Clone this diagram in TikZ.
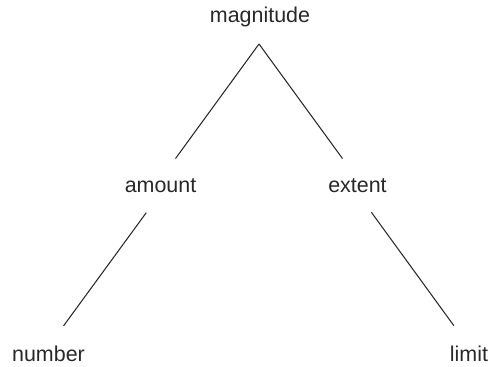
\documentclass[tikz,border=0pt]{standalone}
\usepackage{fontspec}
\setmainfont{Liberation Sans}
\usetikzlibrary{positioning, calc}
\definecolor{InkGray}{RGB}{40,40,40}

\begin{document}
\begin{tikzpicture}[x=0.02cm, y=-0.02cm,
    word/.style={inner sep=0pt, outer sep=0pt, anchor=base, text=InkGray, font=\fontsize{12.2}{14}\selectfont},
    branch/.style={draw=InkGray, line width=0.6pt}]
    \useasboundingbox (0,0) rectangle (490,367);
    % Nodes
    \node[word] (magnitude) at (260,23) {magnitude};
    \node[word] (amount) at (160.5,193) {amount};
    \node[word] (extent) at (357.5,193) {extent};
    \node[word] (number) at (48.5,362) {number};
    \node[word] (limit) at (469,362) {limit};
    \coordinate (apex) at (259,44);

    % Branches
    \draw[branch, shorten >=14.5pt] (apex) -- (amount.north);
    \draw[branch, shorten >=14.5pt] (apex) -- (extent.north);
    \draw[branch, shorten <=13.7pt, shorten >=14.5pt] (amount.south) -- (number.north);
    \draw[branch, shorten <=13.4pt, shorten >=14.6pt] (extent.south) -- (limit.north);
\end{tikzpicture}
\end{document}
